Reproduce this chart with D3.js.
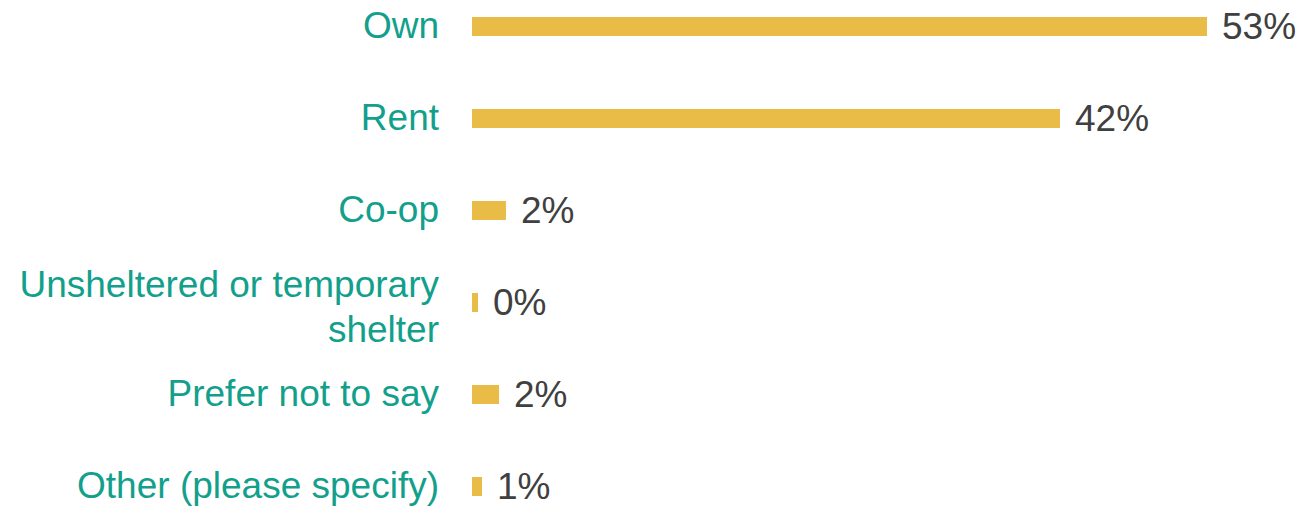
<!DOCTYPE html>
<html>
<head>
<meta charset="utf-8">
<script src="https://cdn.jsdelivr.net/npm/d3@7"></script>
<style>
  html, body { margin: 0; padding: 0; background: #fff; }
  svg { display: block; }
</style>
</head>
<body>
<svg id="chart" width="1303" height="513"></svg>
<script>
// Data
const categories = [
  "Own",
  "Rent",
  "Co-op",
  "Unsheltered or temporary shelter",
  "Prefer not to say",
  "Other (please specify)"
];
const values = [0.53, 0.424, 0.0245, 0.0043, 0.0195, 0.0072];

const W = 1303, H = 513;
const svg = d3.select("#chart");

const barColor = "#E8BC46";
const labelColor = "#12A08C";
const valueColor = "#404040";
const fontFamily = "'Liberation Sans', Arial, sans-serif";
const fontSize = 37;

const x = d3.scaleLinear().domain([0, 0.53]).range([472, 1207]);
const y = d3.scaleBand()
  .domain(categories)
  .range([17, 496])
  .paddingInner(1 - 19 / 92)
  .paddingOuter(0);

const data = categories.map((c, i) => ({ cat: c, val: values[i] }));

// Bars
svg.append("g").selectAll("rect")
  .data(data)
  .join("rect")
  .attr("x", x(0))
  .attr("y", d => y(d.cat))
  .attr("width", d => x(d.val) - x(0))
  .attr("height", y.bandwidth())
  .attr("fill", barColor);

// Value labels
const fmt = d3.format(".0%");
svg.append("g").selectAll("text")
  .data(data)
  .join("text")
  .attr("x", d => x(d.val) + 15)
  .attr("y", d => y(d.cat) + y.bandwidth() / 2 + 12)
  .attr("font-family", fontFamily)
  .attr("font-size", fontSize)
  .attr("fill", valueColor)
  .text(d => fmt(d.val));

// Category labels (wrapped)
const maxLabelWidth = 430;
const lineHeight = 44.5;
const labelX = 439;
const gLab = svg.append("g");

data.forEach(d => {
  const cy = y(d.cat) + y.bandwidth() / 2;
  const t = gLab.append("text")
    .attr("font-family", fontFamily)
    .attr("font-size", fontSize)
    .attr("fill", labelColor)
    .attr("text-anchor", "end");
  const words = d.cat.split(" ");
  const lines = [];
  let cur = [];
  const probe = t.append("tspan");
  words.forEach(w => {
    const test = cur.concat([w]).join(" ");
    probe.text(test);
    if (probe.node().getComputedTextLength() > maxLabelWidth && cur.length) {
      lines.push(cur.join(" "));
      cur = [w];
    } else {
      cur.push(w);
    }
  });
  lines.push(cur.join(" "));
  probe.remove();
  const n = lines.length;
  const first = n === 1 ? cy + 11 : cy - 5.5;
  lines.forEach((ln, i) => {
    t.append("tspan")
      .attr("x", labelX)
      .attr("y", first + i * lineHeight)
      .text(ln);
  });
});
</script>
</body>
</html>
